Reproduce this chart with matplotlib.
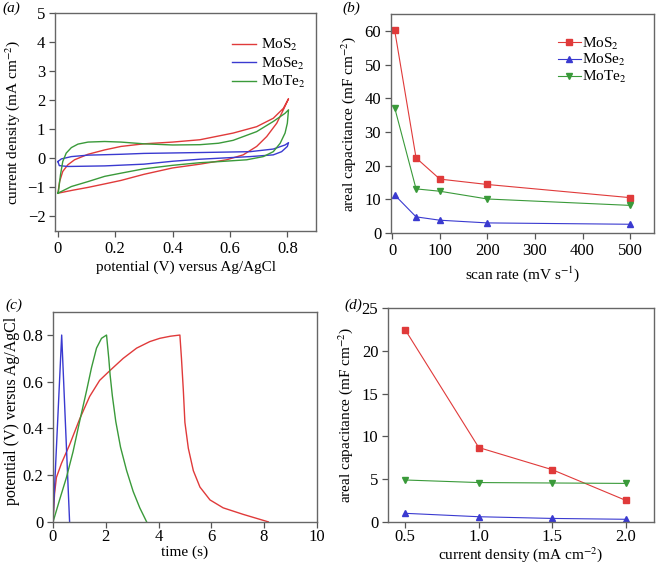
import matplotlib
matplotlib.use("Agg")
import matplotlib.pyplot as plt

plt.rcParams['font.family'] = ['Liberation Serif', 'DejaVu Serif']
plt.rcParams['mathtext.fontset'] = 'stix'
plt.rcParams['font.size'] = 11

RED = '#e03a3a'
BLUE = '#3a3ad0'
GREEN = '#3a9a3a'
names = ['MoS$_2$', 'MoSe$_2$', 'MoTe$_2$']

# (a) cyclic voltammetry loops (potential V, current mA cm-2)
cv_mos2_v = [0.0, 0.006, 0.017, 0.035, 0.058, 0.105, 0.163, 0.22, 0.30, 0.40, 0.495, 0.611, 0.693,
             0.751, 0.786, 0.804,
             0.786, 0.763, 0.728, 0.693, 0.646, 0.588, 0.495, 0.40, 0.30, 0.22, 0.163, 0.105, 0.05, 0.0]
cv_mos2_j = [-1.2, -0.8, -0.45, -0.22, -0.05, 0.14, 0.29, 0.41, 0.5, 0.56, 0.64, 0.87, 1.09,
             1.38, 1.72, 2.05,
             1.67, 1.21, 0.75, 0.41, 0.12, -0.05, -0.2, -0.33, -0.55, -0.76, -0.88, -1.0, -1.1, -1.2]
cv_mose2_v = [0.0, 0.012, 0.047, 0.105, 0.22, 0.30, 0.495, 0.67, 0.751, 0.792, 0.804,
              0.8, 0.78, 0.751, 0.67, 0.495, 0.40, 0.30, 0.163, 0.035, 0.005, 0.0]
cv_mose2_j = [-0.11, -0.02, 0.06, 0.11, 0.14, 0.17, 0.2, 0.23, 0.32, 0.46, 0.54,
              0.41, 0.23, 0.12, 0.06, -0.03, -0.1, -0.2, -0.26, -0.28, -0.25, -0.11]
cv_mote2_v = [0.0, 0.002, 0.009, 0.017, 0.029, 0.047, 0.07, 0.105, 0.163, 0.22, 0.30, 0.40, 0.495,
              0.56, 0.611, 0.693, 0.751, 0.792, 0.804,
              0.8, 0.792, 0.775, 0.751, 0.716, 0.658, 0.565, 0.495, 0.40, 0.30, 0.22, 0.163, 0.105,
              0.047, 0.0]
cv_mote2_j = [-1.2, -1.14, -0.57, -0.11, 0.18, 0.37, 0.49, 0.56, 0.58, 0.56, 0.5, 0.46, 0.47,
              0.52, 0.62, 0.92, 1.27, 1.55, 1.67,
              1.21, 0.87, 0.52, 0.23, 0.06, -0.05, -0.11, -0.15, -0.24, -0.36, -0.51, -0.62, -0.8,
              -0.97, -1.2]

# (b) areal capacitance vs scan rate
scan_rate = [5, 50, 100, 200, 500]
cap_scan_mos2 = [60.2, 22.3, 16.0, 14.4, 10.5]
cap_scan_mose2 = [11.3, 4.8, 3.8, 3.0, 2.6]
cap_scan_mote2 = [37.2, 13.1, 12.4, 10.1, 8.2]

# (c) galvanostatic charge/discharge (time s, potential V)
gcd_mos2_t = [0.0, 0.06, 0.13, 0.32, 0.63, 1.01, 1.39, 1.77, 2.15, 2.66, 3.17, 3.67, 4.05, 4.45, 4.81,
              4.87, 4.94, 5.0, 5.13, 5.32, 5.57, 5.95, 6.45, 7.21, 8.16]
gcd_mos2_v = [0.0, 0.12, 0.19, 0.25, 0.33, 0.44, 0.537, 0.606, 0.647, 0.70, 0.744, 0.772, 0.786, 0.795, 0.8,
              0.70, 0.565, 0.426, 0.315, 0.219, 0.149, 0.094, 0.06, 0.032, 0.0]
gcd_mose2_t = [0.0, 0.33, 0.63]
gcd_mose2_v = [0.0, 0.8, 0.0]
gcd_mote2_t = [0.0, 0.03, 0.25, 0.51, 0.76, 1.01, 1.27, 1.46, 1.65, 1.84, 2.03,
               2.115, 2.165, 2.25, 2.38, 2.56, 2.79, 3.04, 3.29, 3.55]
gcd_mote2_v = [0.0, 0.01, 0.094, 0.19, 0.30, 0.43, 0.56, 0.66, 0.744, 0.786, 0.8,
               0.70, 0.63, 0.54, 0.43, 0.32, 0.22, 0.13, 0.06, 0.0]

# (d) areal capacitance vs current density
cur_density = [0.5, 1.0, 1.5, 2.0]
cap_cd_mos2 = [22.5, 8.7, 6.1, 2.5]
cap_cd_mose2 = [1.0, 0.6, 0.4, 0.3]
cap_cd_mote2 = [4.9, 4.6, 4.55, 4.5]


def style_axes(ax, xpad=3):
    for s in ax.spines.values():
        s.set_color('#666666')
        s.set_linewidth(1.0)
    ax.tick_params(direction='out', length=4, width=0.9, color='#555555',
                   labelsize=12, top=False, right=False, pad=3)
    ax.tick_params(axis='x', pad=xpad)


fig = plt.figure(figsize=(6.58, 5.66), dpi=100)

# panel (a)
ax = fig.add_axes([0.0836, 0.5919, 0.3967, 0.385])
ax.plot(cv_mos2_v, cv_mos2_j, color=RED, lw=1.0, label=names[0])
ax.plot(cv_mose2_v, cv_mose2_j, color=BLUE, lw=1.0, label=names[1])
ax.plot(cv_mote2_v, cv_mote2_j, color=GREEN, lw=1.0, label=names[2])
ax.set_xlim(-0.01, 0.9)
ax.set_ylim(-2.5, 5)
ax.set_xticks([0, 0.2, 0.4, 0.6, 0.8])
ax.set_xticklabels(['0', '0.2', '0.4', '0.6', '0.8'])
ax.set_yticks(range(-2, 6))
ax.set_yticklabels(['\u22122', '\u22121', '0', '1', '2', '3', '4', '5'])
ax.set_xlabel('potential (V) versus Ag/AgCl', fontsize=11, labelpad=3)
ax.set_ylabel('current density (mA cm$^{-2}$)', fontsize=11, labelpad=4)
ax.legend(loc='upper right', bbox_to_anchor=(0.985, 0.917), frameon=False, fontsize=11,
          handlelength=1.6, handletextpad=0.35, labelspacing=0.15, borderaxespad=0)
style_axes(ax)
fig.text(0.004, 0.985, '(a)', style='italic', fontsize=11, va='center')

# panel (b)
ax = fig.add_axes([0.594, 0.5883, 0.3997, 0.387])
ax.plot(scan_rate, cap_scan_mos2, color=RED, lw=0.8, marker='s', ms=4.5, label=names[0])
ax.plot(scan_rate, cap_scan_mose2, color=BLUE, lw=0.8, marker='^', ms=5, label=names[1])
ax.plot(scan_rate, cap_scan_mote2, color=GREEN, lw=0.8, marker='v', ms=5, label=names[2])
ax.set_xlim(-3, 550)
ax.set_ylim(0, 65)
ax.set_xticks(range(0, 501, 100))
ax.set_yticks(range(0, 61, 10))
ax.set_xlabel('scan rate (mV s$^{-1}$)', fontsize=11, labelpad=4)
ax.set_ylabel('areal capacitance (mF cm$^{-2}$)', fontsize=11, labelpad=5)
ax.legend(loc='upper right', bbox_to_anchor=(0.92, 0.93), frameon=False, fontsize=11,
          handlelength=1.5, labelspacing=0.05, borderaxespad=0, handletextpad=0.1)
style_axes(ax)
fig.text(0.52, 0.985, '(b)', style='italic', fontsize=11, va='center')

# panel (c)
ax = fig.add_axes([0.0805, 0.078, 0.401, 0.3713])
ax.plot(gcd_mos2_t, gcd_mos2_v, color=RED, lw=1.0)
ax.plot(gcd_mose2_t, gcd_mose2_v, color=BLUE, lw=1.0)
ax.plot(gcd_mote2_t, gcd_mote2_v, color=GREEN, lw=1.0)
ax.set_xlim(0, 10)
ax.set_ylim(0, 0.9)
ax.set_xticks(range(0, 11, 2))
ax.set_yticks([0, 0.2, 0.4, 0.6, 0.8])
ax.set_yticklabels(['0', '0.2', '0.4', '0.6', '0.8'])
ax.set_xlabel('time (s)', fontsize=11, labelpad=0)
ax.set_ylabel('potential (V) versus Ag/AgCl', fontsize=11.5)
ax.yaxis.set_label_coords(-0.125, 0.53)
style_axes(ax, xpad=1.5)
fig.text(0.008, 0.46, '(c)', style='italic', fontsize=11, va='center')

# panel (d)
ax = fig.add_axes([0.5897, 0.078, 0.4043, 0.3773])
ax.plot(cur_density, cap_cd_mos2, color=RED, lw=0.8, marker='s', ms=4.5)
ax.plot(cur_density, cap_cd_mose2, color=BLUE, lw=0.8, marker='^', ms=5)
ax.plot(cur_density, cap_cd_mote2, color=GREEN, lw=0.8, marker='v', ms=5)
ax.set_xlim(0.384, 2.19)
ax.set_ylim(0, 25)
ax.set_xticks([0.5, 1.0, 1.5, 2.0])
ax.set_xticklabels(['0.5', '1.0', '1.5', '2.0'])
ax.set_yticks(range(0, 26, 5))
ax.set_xlabel('current density (mA cm$^{-2}$)', fontsize=11, labelpad=0)
ax.set_ylabel('areal capacitance (mF cm$^{-2}$)', fontsize=11, labelpad=5)
style_axes(ax, xpad=1.5)
fig.text(0.523, 0.46, '(d)', style='italic', fontsize=11, va='center')

fig.savefig('out.png', dpi=100)
